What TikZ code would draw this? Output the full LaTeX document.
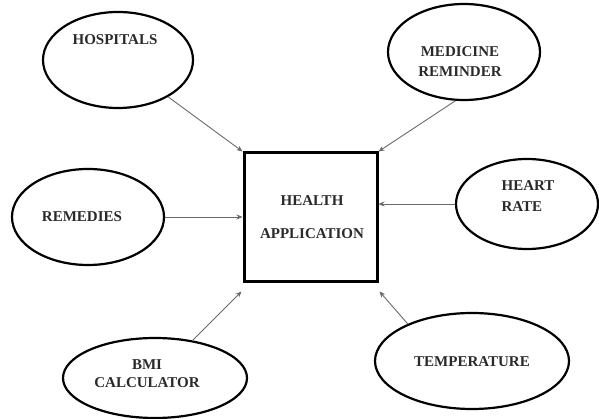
\documentclass[tikz,border=0pt]{standalone}
\usepackage{fontspec}
\setmainfont{Liberation Serif}
\usetikzlibrary{shapes.geometric,arrows.meta,calc}
\definecolor{txt}{HTML}{2A2A2A}
\definecolor{lnk}{HTML}{6A6A6A}
\begin{document}
\begin{tikzpicture}[x=1pt,y=-1pt,
  oval/.style={ellipse,draw=black,line width=2.2pt,inner sep=0pt},
  lab/.style={font=\fontsize{15}{20}\selectfont\bfseries,text=txt,align=center},
  mainbox/.style={draw=black,line width=3pt,minimum width=133pt,minimum height=129pt,inner sep=0pt,
    font=\fontsize{15}{18}\selectfont\bfseries,text=txt,align=center},
  link/.style={draw=lnk,line width=0.9pt,-{Stealth[length=6pt,width=5pt,fill=black]}}]
\useasboundingbox (0,0) rectangle (599,419);
\node[mainbox] (box) at (310.5,217.5) {\hspace*{3pt}HEALTH\\[15pt]\hspace*{3pt}APPLICATION};
\node[oval,minimum width=150pt,minimum height=96pt,
  label={[lab,xshift=-3pt,yshift=20pt]center:HOSPITALS}] (hosp) at (118,60) {};
\node[oval,minimum width=152pt,minimum height=96pt,
  label={[lab,xshift=-4pt,yshift=-10pt]center:MEDICINE\\REMINDER}] (med) at (464,52) {};
\node[oval,minimum width=152pt,minimum height=96pt,
  label={[lab,xshift=-6pt,yshift=0pt]center:REMEDIES}] (rem) at (88,217) {};
\node[oval,minimum width=142pt,minimum height=90pt,
  label={[lab,align=left,font=\fontsize{15}{21}\selectfont\bfseries,xshift=1pt,yshift=8pt]center:HEART\\RATE}] (heart) at (527,204) {};
\node[oval,minimum width=184pt,minimum height=80pt,
  label={[lab,font=\fontsize{15}{18}\selectfont\bfseries,xshift=-8pt,yshift=4pt]center:BMI\\CALCULATOR}] (bmi) at (155,378) {};
\node[oval,minimum width=194pt,minimum height=96pt,
  label={[lab,xshift=0pt,yshift=-1pt]center:TEMPERATURE}] (temp) at (472,361) {};
\draw[link] (hosp) -- (box.north west);
\draw[link] (med.-100) -- (box.north east);
\draw[link] (rem.east) -- (box.west |- rem.east);
\draw[link] (heart.west) -- (box.east |- heart.west);
\draw[link] (bmi.45) -- ($(box.south west)+(-1,8)$);
\draw[link] (temp.150) -- ($(box.south east)+(1,8)$);
\end{tikzpicture}
\end{document}
